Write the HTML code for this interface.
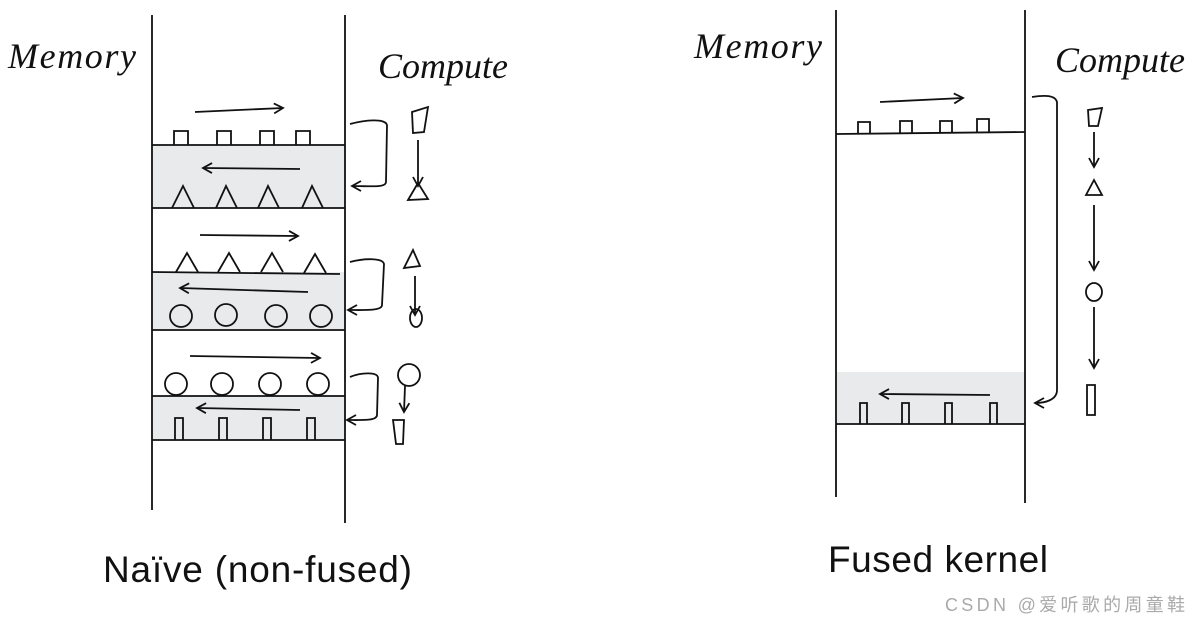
<!DOCTYPE html><html><head><meta charset="utf-8"><style>body{margin:0;background:#fff}svg{display:block}</style></head><body>
<svg width="1190" height="623" viewBox="0 0 1190 623" xmlns="http://www.w3.org/2000/svg" font-family="Liberation Sans, sans-serif">
<defs><marker id="a" markerWidth="12" markerHeight="12" refX="10" refY="6" orient="auto" markerUnits="userSpaceOnUse"><path d="M1,1 L10,6 L1,11" fill="none" stroke="#111" stroke-width="1.8"/></marker></defs>
<g stroke="#111" stroke-width="1.8" fill="none">
<rect x="153" y="145" width="192" height="63" fill="#e8eaeb" stroke="none"/>
<rect x="153" y="272" width="192" height="58" fill="#e8eaeb" stroke="none"/>
<rect x="153" y="396" width="192" height="44" fill="#e8eaeb" stroke="none"/>
<line x1="152" y1="15" x2="152" y2="510"/><line x1="345" y1="15" x2="345" y2="523"/>
<line x1="152" y1="145" x2="345" y2="145"/><line x1="152" y1="208" x2="345" y2="208"/>
<line x1="152" y1="272" x2="340" y2="274"/><line x1="152" y1="330" x2="345" y2="330"/>
<line x1="152" y1="396" x2="345" y2="396"/><line x1="152" y1="440" x2="345" y2="440"/>
<path d="M174 145V131H188V145M217 145V131H231V145M260 145V131H274V145M296 145V131H310V145"/>
<path d="M195 112 L283 108" marker-end="url(#a)"/><path d="M300 169 L203 168" marker-end="url(#a)"/>
<path d="M172 208L183 186L194 208M216 208L226 186L237 208M258 208L268 186L279 208M302 208L312 186L323 208"/>
<path d="M200 235 L298 236" marker-end="url(#a)"/><path d="M308 292 L180 288" marker-end="url(#a)"/>
<path d="M176 272L187 253L198 272M218 272L229 253L240 272M261 272L272 253L283 272M304 273L315 254L326 273"/>
<circle cx="181" cy="316" r="11"/><circle cx="226" cy="315" r="11"/><circle cx="276" cy="316" r="11"/><circle cx="321" cy="316" r="11"/>
<path d="M190 356 L320 358" marker-end="url(#a)"/><path d="M300 410 L197 408" marker-end="url(#a)"/>
<circle cx="176" cy="384" r="11"/><circle cx="222" cy="384" r="11"/><circle cx="270" cy="384" r="11"/><circle cx="318" cy="384" r="11"/>
<path d="M175 440V418H183V440M219 440V418H227V440M263 440V418H271V440M307 440V418H315V440"/>
<path d="M350 124 C365 120 385 118 387 125 L386 182 C386 188 370 186 352 186" marker-end="url(#a)"/>
<path d="M350 262 C365 258 383 258 384 264 L382 305 C382 311 365 310 348 310" marker-end="url(#a)"/>
<path d="M350 377 C362 372 378 372 378 378 L377 415 C377 421 362 420 347 420" marker-end="url(#a)"/>
<path d="M412 112 L428 107 L424 132 L413 133 Z"/><path d="M418 140 L418 186" marker-end="url(#a)"/><path d="M408 200 L418 183 L428 199 Z"/>
<path d="M404 268 L413 250 L420 266 Z"/><path d="M415 276 L415 315" marker-end="url(#a)"/><ellipse cx="416" cy="318" rx="6" ry="9"/>
<circle cx="409" cy="375" r="11"/><path d="M405 386 L404 412" marker-end="url(#a)"/><path d="M393 420 L404 420 L403 444 L396 444 Z"/>
<rect x="837" y="372" width="188" height="52" fill="#e8eaeb" stroke="none"/>
<line x1="836" y1="10" x2="836" y2="497"/><line x1="1025" y1="10" x2="1025" y2="503"/>
<line x1="836" y1="134" x2="1025" y2="132"/><line x1="836" y1="424" x2="1025" y2="424"/>
<path d="M858 134V122H870V134M900 133V121H912V133M940 133V121H952V133M977 133V119H989V133"/>
<path d="M880 102 L963 98" marker-end="url(#a)"/><path d="M990 395 L880 394" marker-end="url(#a)"/>
<path d="M860 424V403H867V424M902 424V403H909V424M945 424V403H952V424M990 424V403H997V424"/>
<path d="M1032 97 C1045 95 1055 95 1057 102 L1057 390 C1057 400 1045 403 1035 403" marker-end="url(#a)"/>
<path d="M1088 110 L1102 108 L1098 126 L1089 126 Z"/><path d="M1094 132 L1094 167" marker-end="url(#a)"/><path d="M1086 195 L1094 180 L1102 195 Z"/>
<path d="M1094 205 L1094 270" marker-end="url(#a)"/><ellipse cx="1094" cy="292" rx="8" ry="9"/>
<path d="M1094 307 L1094 368" marker-end="url(#a)"/><path d="M1087 385 L1095 385 L1095 415 L1087 415 Z"/>
</g>
<g font-style="italic" fill="#111" font-family="Liberation Serif, serif" font-size="36">
<text x="8" y="68" textLength="128">Memory</text><text x="378" y="78" textLength="130">Compute</text>
<text x="694" y="58" textLength="128">Memory</text><text x="1055" y="72" textLength="130">Compute</text>
</g>
<text x="103" y="582" font-size="37" fill="#111" textLength="309">Naïve (non-fused)</text>
<text x="828" y="572" font-size="37" fill="#111" textLength="220">Fused kernel</text>
<text x="945" y="611" font-size="18" fill="#aaa" textLength="240" font-family="Liberation Sans, Noto Sans CJK SC, sans-serif">CSDN @爱听歌的周童鞋</text>
</svg></body></html>
